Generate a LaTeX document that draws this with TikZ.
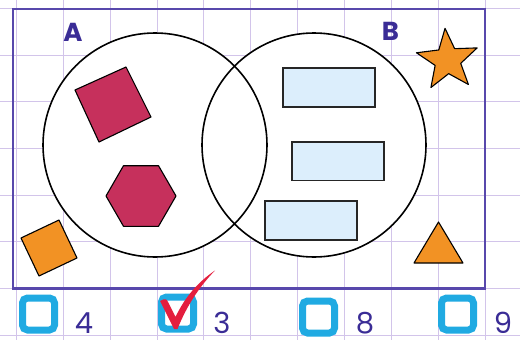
\documentclass[tikz,border=0pt]{standalone}
\usepackage{fontspec}
\setmainfont{Poppins}
\definecolor{gridc}{RGB}{210,196,234}
\definecolor{framec}{RGB}{88,72,172}
\definecolor{letterc}{RGB}{58,44,150}
\definecolor{crimson}{RGB}{198,48,92}
\definecolor{orangec}{RGB}{242,146,36}
\definecolor{lblue}{RGB}{220,238,252}
\definecolor{cyanc}{RGB}{32,170,226}
\definecolor{checkred}{RGB}{228,30,62}
\tikzset{
  gridline/.style={draw=gridc, line width=0.8pt},
  framebox/.style={draw=framec, line width=2.4pt},
  setcircle/.style={draw=black, line width=1.6pt},
  shapeout/.style={draw=black, line width=1.1pt, line join=round},
  bluerect/.style={draw=black!85, line width=1.3pt, fill=lblue},
  cbox/.style={draw=cyanc, line width=7pt, rounded corners=5pt},
  setlabel/.style={inner sep=0pt, anchor=base, text depth=0pt, text=letterc, font=\fontsize{26}{26}\selectfont\bfseries},
  numlabel/.style={inner sep=0pt, anchor=base, text depth=0pt, text=letterc, font=\fontsize{29}{29}\selectfont},
}
\begin{document}
\begin{tikzpicture}[x=1pt,y=-1pt]
\useasboundingbox (0,0) rectangle (520,340);
\fill[white] (0,0) rectangle (520,340);
% grid
\foreach \i in {0,...,10} {
  \draw[gridline] ({16.3+46.87*\i},0) -- ({16.3+46.87*\i},340);
}
\foreach \j in {0,...,7} {
  \draw[gridline] (0,{8.5+46.67*\j}) -- (520,{8.5+46.67*\j});
}
% frame
\draw[framebox] (13,9) rectangle (485,288.5);
% circles
\fill[white] (155,145) circle (112);
\fill[white] (314,145) circle (112);
\draw[setcircle] (155,145) circle (112);
\draw[setcircle] (314,145) circle (112);
% set labels
\node[setlabel] (lA) at (73,41.5) {A};
\node[setlabel] (lB) at (390.5,40.5) {B};
% crimson square
\draw[shapeout, fill=crimson] (126,67) -- (151,117) -- (99,142) -- (75,90) -- cycle;
% hexagon
\draw[shapeout, fill=crimson] (176,196) -- (158.5,226.3) -- (123.5,226.3) -- (106,196) -- (123.5,165.7) -- (158.5,165.7) -- cycle;
% blue rectangles
\draw[bluerect] (283,68) rectangle (375,107);
\draw[bluerect] (292,142) rectangle (384,180.5);
\draw[bluerect] (265,201) rectangle (357,240);
% orange square
\draw[shapeout, fill=orangec] (21,238) -- (59,220) -- (77,258) -- (39,276) -- cycle;
% star
\begin{scope}[shift={(447.6,60.2)}]
\draw[shapeout, fill=orangec] (-94.6:32) -- (-58.6:13.5) -- (-22.6:32) -- (13.4:13.5) -- (49.4:32) -- (85.4:13.5) -- (121.4:32) -- (157.4:13.5) -- (193.4:32) -- (229.4:13.5) -- cycle;
\end{scope}
% triangle
\draw[shapeout, fill=orangec] (438.5,222) -- (463,263) -- (414,263) -- cycle;
% checkboxes
\draw[cbox] (22.5,298) rectangle (54.5,330);
\draw[cbox] (161.5,297) rectangle (193.5,329);
\draw[cbox] (302.5,301) rectangle (334.5,333);
\draw[cbox] (441.5,298) rectangle (473.5,330);
% numbers
\node[numlabel] (n4) at (84,333) {4};
\node[numlabel] (n3) at (222,333) {3};
\node[numlabel] (n8) at (365,333.5) {8};
\node[numlabel] (n9) at (503,333) {9};
% check mark
\fill[checkred] (160,301) .. controls (165,298) and (167,299) .. (168,302)
  -- (175.5,317) .. controls (185,297) and (198,282) .. (215,270.5)
  .. controls (200,286) and (187,305) .. (177.5,329)
  -- (174,329) -- cycle;
\end{tikzpicture}
\end{document}
